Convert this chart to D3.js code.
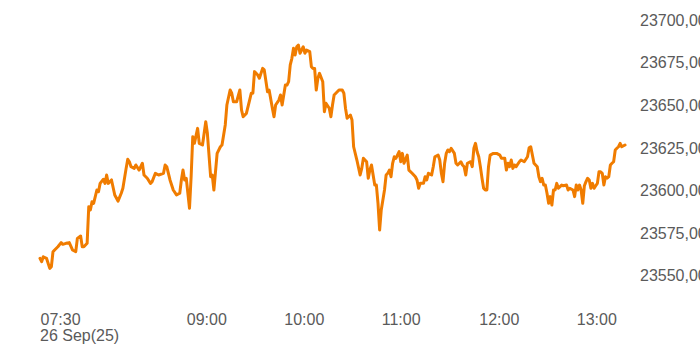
<!DOCTYPE html>
<html>
<head>
<meta charset="utf-8">
<script src="https://cdn.jsdelivr.net/npm/d3@7"></script>
<style>
  html, body { margin: 0; padding: 0; background: #fff; }
  svg { display: block; }
  text { font-family: "Liberation Sans", Arial, sans-serif; }
</style>
</head>
<body>
<svg id="chart" width="700" height="350"></svg>
<script>
const times = ["07:30","07:31","07:32","07:34","07:36","07:37","07:38","07:39","07:41","07:43","07:44","07:46","07:48","07:50","07:52","07:53","07:55","07:56","07:57","07:59",
"08:00","08:01","08:02","08:03","08:05","08:06","08:07","08:09","08:10","08:11","08:12","08:14","08:16","08:18","08:20","08:21","08:23","08:24","08:25","08:26",
"08:28","08:29","08:31","08:33","08:34","08:36","08:38","08:39","08:41","08:43","08:46","08:47","08:48","08:50","08:52","08:54","08:56","08:57","08:58","08:59",
"09:00","09:02","09:03","09:04","09:05","09:07","09:08","09:10","09:12","09:13","09:15","09:16","09:17","09:19","09:21","09:22","09:24","09:25","09:27","09:28",
"09:29","09:31","09:33","09:34","09:35","09:37","09:39","09:40","09:41","09:42","09:44","09:45","09:47","09:48","09:50","09:51","09:53","09:54","09:55","09:57",
"09:58","09:59","10:01","10:02","10:03","10:04","10:05","10:06","10:07","10:08","10:09","10:10","10:12","10:13","10:14","10:16","10:17","10:18","10:19","10:20",
"10:21","10:22","10:24","10:25","10:26","10:28","10:29","10:30","10:31","10:34","10:36","10:37","10:38","10:39","10:41","10:42","10:43","10:45","10:47","10:48",
"10:49","10:51","10:52","10:53","10:54","10:55","10:56","10:57","10:58","10:59","11:00","11:02","11:03","11:04","11:05","11:06","11:07","11:08","11:09","11:11",
"11:12","11:13","11:14","11:16","11:17","11:19","11:21","11:22","11:23","11:24","11:26","11:27","11:28","11:29","11:31","11:32","11:33","11:35","11:36","11:37",
"11:38","11:39","11:40","11:41","11:42","11:43","11:45","11:46","11:47","11:49","11:50","11:51","11:52","11:53","11:55","11:56","11:57","11:58","11:59","12:00",
"12:01","12:02","12:03","12:04","12:05","12:06","12:07","12:09","12:11","12:13","12:14","12:16","12:17","12:18","12:19","12:20","12:21","12:22","12:23","12:25",
"12:26","12:28","12:30","12:31","12:32","12:33","12:34","12:35","12:36","12:37","12:38","12:39","12:40","12:41","12:42","12:43","12:44","12:45","12:46","12:47",
"12:48","12:49","12:51","12:52","12:54","12:55","12:56","12:58","12:59","13:00","13:01","13:02","13:03","13:04","13:05","13:06","13:07","13:08","13:09","13:10",
"13:11","13:12","13:13","13:14","13:15","13:16","13:17","13:18","13:19","13:20","13:21","13:22","13:23","13:24","13:25","13:26","13:27","13:28","13:30"];

const prices = [23559.8,23557.8,23560.7,23559.8,23553.9,23554.9,23563.7,23564.7,23566.6,23569.0,23568.0,23568.6,23569.0,23564.7,23563.7,23571.5,23572.9,23566.6,23566.6,23568.6,
23590.1,23588.2,23593.0,23592.1,23599.9,23598.9,23603.8,23606.2,23603.8,23608.7,23603.8,23605.8,23597.0,23593.4,23598.0,23600.9,23612.6,23617.9,23616.5,23613.6,
23612.6,23614.6,23611.6,23615.6,23608.7,23606.8,23603.8,23604.8,23609.7,23608.7,23609.7,23614.6,23613.6,23605.8,23599.9,23597.0,23598.0,23605.8,23611.6,23605.8,
23606.8,23589.2,23607.7,23631.2,23627.3,23636.1,23627.3,23626.3,23640.0,23633.2,23607.7,23608.7,23599.9,23621.4,23625.3,23626.3,23638.1,23649.8,23658.6,23656.7,
23651.7,23651.7,23658.6,23646.9,23642.9,23644.9,23652.7,23656.7,23656.7,23669.4,23667.4,23665.5,23671.3,23670.4,23657.6,23658.6,23647.9,23642.9,23649.8,23652.7,
23655.7,23649.8,23661.5,23661.5,23663.5,23673.3,23677.2,23683.1,23679.2,23684.0,23685.0,23680.2,23684.0,23680.2,23682.1,23681.1,23672.3,23671.3,23671.3,23658.6,
23665.5,23668.4,23663.5,23645.9,23650.8,23647.9,23642.9,23649.8,23655.7,23658.6,23658.6,23656.7,23647.9,23642.0,23643.9,23641.0,23625.3,23617.5,23608.7,23612.6,
23618.5,23616.5,23606.8,23611.6,23614.6,23608.7,23602.8,23602.8,23592.1,23576.4,23588.2,23599.9,23608.7,23609.7,23611.6,23607.7,23615.6,23619.4,23618.5,23622.4,
23616.5,23621.4,23615.6,23620.4,23611.6,23609.7,23607.7,23605.8,23600.9,23603.8,23603.8,23607.7,23605.8,23609.7,23608.7,23613.6,23619.4,23620.4,23617.5,23609.7,
23604.8,23615.6,23621.4,23623.4,23622.4,23624.4,23621.4,23615.6,23614.6,23616.5,23614.6,23613.6,23608.7,23615.6,23616.5,23613.6,23624.4,23627.3,23622.4,23619.4,
23613.6,23606.8,23600.9,23599.9,23599.9,23613.6,23620.4,23621.4,23621.4,23620.4,23618.5,23618.5,23611.6,23615.6,23613.6,23617.5,23612.6,23614.6,23613.6,23616.5,
23617.5,23616.5,23619.4,23624.7,23625.3,23620.4,23615.6,23614.6,23613.6,23607.7,23604.8,23606.8,23602.8,23602.8,23598.0,23592.1,23596.0,23591.1,23599.9,23599.9,
23603.8,23600.9,23602.8,23602.4,23602.8,23599.9,23600.9,23599.9,23596.0,23602.8,23599.9,23602.8,23599.9,23592.1,23602.4,23604.8,23606.8,23605.8,23600.9,23603.8,
23600.9,23602.4,23603.8,23610.6,23610.6,23609.7,23602.8,23607.7,23606.8,23607.7,23614.6,23615.6,23616.5,23623.4,23624.4,23625.3,23627.3,23625.3,23626.3];

const yTicks = [23550, 23575, 23600, 23625, 23650, 23675, 23700];
const xTicks = ["07:30", "09:00", "10:00", "11:00", "12:00", "13:00"];
const dateLabel = "26 Sep(25)";
const xDomain = ["07:30", "13:30"];

const parse = d3.timeParse("%H:%M");
const data = times.map((t, i) => ({ t: parse(t), v: prices[i] }));

const svg = d3.select("#chart");

const x = d3.scaleTime().domain(xDomain.map(parse)).range([40, 625]);
const y = d3.scaleLinear().domain([23550, 23700]).range([275, 19.5]);

const fmt = v => d3.format(".2f")(v).replace(".", ",");

// Y axis (right side, labels only)
const yAxis = d3.axisRight(y)
  .tickValues(yTicks)
  .tickSize(0)
  .tickPadding(0)
  .tickFormat(fmt);
const gy = svg.append("g").attr("transform", "translate(640,0)").call(yAxis);
gy.select(".domain").remove();
gy.selectAll("text")
  .attr("x", 0)
  .attr("dy", "0.36em")
  .attr("text-anchor", "start")
  .style("font-family", "'Liberation Sans', Arial, sans-serif")
  .style("font-size", "16px")
  .attr("fill", "#5a5a5a");

// X axis (bottom, labels only)
const xAxis = d3.axisBottom(x)
  .tickValues(xTicks.map(parse))
  .tickSize(0)
  .tickPadding(0)
  .tickFormat(d3.timeFormat("%H:%M"));
const gx = svg.append("g").attr("transform", "translate(0,325)").call(xAxis);
gx.select(".domain").remove();
gx.selectAll("text")
  .attr("y", 0)
  .attr("dy", 0)
  .attr("text-anchor", "start")
  .style("font-family", "'Liberation Sans', Arial, sans-serif")
  .style("font-size", "16px")
  .attr("fill", "#5a5a5a");

svg.append("text")
  .attr("x", x(parse(xTicks[0])))
  .attr("y", 341)
  .style("font-family", "'Liberation Sans', Arial, sans-serif")
  .style("font-size", "16px")
  .attr("fill", "#5a5a5a")
  .text(dateLabel);

// Line
const line = d3.line().x(d => x(d.t)).y(d => y(d.v));
svg.append("path")
  .datum(data)
  .attr("d", line)
  .attr("fill", "none")
  .attr("stroke", "#f07c00")
  .attr("stroke-width", 3)
  .attr("stroke-linejoin", "round")
  .attr("stroke-linecap", "round");
</script>
</body>
</html>
